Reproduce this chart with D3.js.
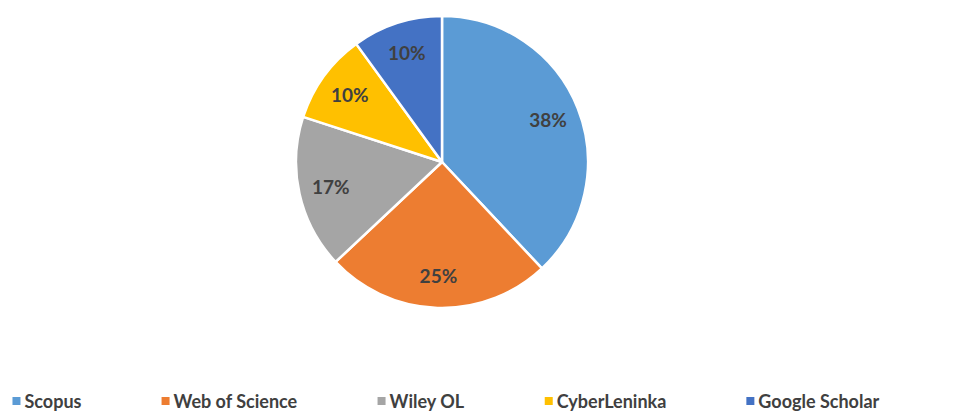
<!DOCTYPE html>
<html><head><meta charset="utf-8">
<script src="https://cdn.jsdelivr.net/npm/d3@7"></script>
<style>body{margin:0;background:#fff}svg{display:block}</style>
</head><body>
<svg id="c" width="964" height="412"></svg>
<script>
const categories = ["Scopus", "Web of Science", "Wiley OL", "CyberLeninka", "Google Scholar"];
const values = [38, 25, 17, 10, 10];
const colors = ["#5B9BD5", "#ED7D31", "#A5A5A5", "#FFC000", "#4472C4"];

const svg = d3.select("#c");
const cx = 442, cy = 162, R = 146;
const font = "Lato, 'Open Sans', sans-serif";

const pie = d3.pie().sort(null).value(d => d)(values);
const arc = d3.arc().innerRadius(0).outerRadius(R);
const labelArc = d3.arc().innerRadius(114).outerRadius(114);
const color = d3.scaleOrdinal().domain(categories).range(colors);

const g = svg.append("g").attr("transform", `translate(${cx},${cy})`);
g.selectAll("path").data(pie).join("path")
  .attr("d", arc)
  .attr("fill", (d, i) => color(categories[i]))
  .attr("stroke", "#fff").attr("stroke-width", 2.5).attr("stroke-linejoin", "round");

g.selectAll("text").data(pie).join("text")
  .attr("transform", d => `translate(${labelArc.centroid(d)})`)
  .attr("text-anchor", "middle").attr("dy", "0.35em")
  .attr("font-family", font).attr("font-weight", "bold").attr("font-size", 19)
  .attr("fill", "#404040")
  .text(d => d.data + "%");

// legend
const lg = svg.append("g");
const items = lg.selectAll("g").data(categories).join("g");
items.append("rect").attr("width", 8).attr("height", 8).attr("y", -5)
  .attr("fill", d => color(d));
items.append("text").attr("x", 12).attr("dy", "0.33em")
  .attr("font-family", font).attr("font-weight", "bold").attr("font-size", 18)
  .attr("fill", "#404040").text(d => d);
const gap = 80;
let x = 0;
const xs = [];
items.each(function() {
  xs.push(x);
  x += this.getBBox().width + gap;
});
const total = x - gap;
const x0 = 446 - total / 2;
items.attr("transform", (d, i) => `translate(${x0 + xs[i]},402)`);
</script>
</body></html>
